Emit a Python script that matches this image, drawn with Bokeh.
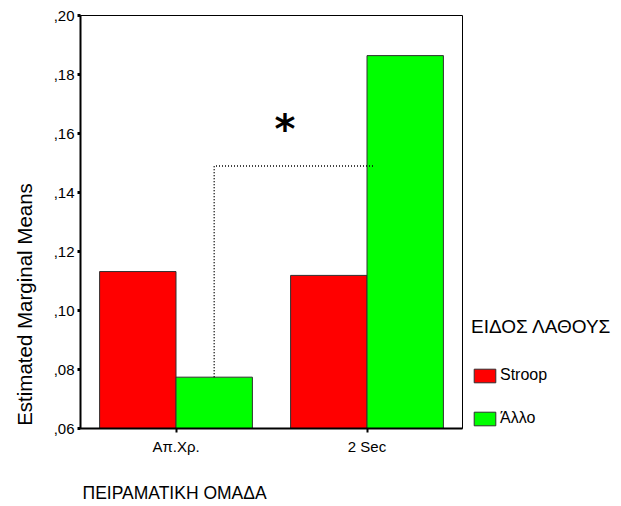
from math import pi
from bokeh.plotting import figure
from bokeh.models import (FactorRange, Range1d, FixedTicker, Label, Legend,
                          LegendItem, ColumnDataSource)
from bokeh.layouts import row, column
from bokeh.transform import dodge
from bokeh.embed import file_html
from bokeh.resources import INLINE

# ---- data ----
groups = ["Απ.Χρ.", "2 Sec"]
series_names = ["Stroop", "Άλλο"]
stroop = [0.1132, 0.1119]
allo = [0.0774, 0.1864]
y_ticks = [0.06, 0.08, 0.10, 0.12, 0.14, 0.16, 0.18, 0.20]
y_tick_labels = [",06", ",08", ",10", ",12", ",14", ",16", ",18", ",20"]
sig_level = 0.149          # level of the dotted significance bracket
star_y = 0.1615            # baseline of the significance asterisk
y_title = "Estimated Marginal Means"
x_title = "ΠΕΙΡΑΜΑΤΙΚΗ ΟΜΑΔΑ"
legend_title = "ΕΙΔΟΣ ΛΑΘΟΥΣ"
colors = ["#FF0000", "#00FF00"]

FONT = "Liberation Sans"
DODGE = 0.2
BAR_W = 0.4
ROW_H = 480
NAN = float("nan")


def blank(width, height):
    f = figure(width=width, height=height, x_range=(0, 1), y_range=(0, 1),
               x_axis_location=None, y_axis_location=None,
               output_backend="svg", toolbar_location=None, min_border=0)
    f.outline_line_color = None
    f.xgrid.visible = False
    f.ygrid.visible = False
    return f


# ---- main chart ----
p = figure(width=431, height=ROW_H,
           x_range=FactorRange(factors=groups, range_padding=0),
           y_range=Range1d(y_ticks[0], y_ticks[-1]),
           output_backend="svg", toolbar_location=None,
           min_border_left=40, min_border_right=9,
           min_border_top=15, min_border_bottom=52)

src = ColumnDataSource(dict(group=groups, stroop=stroop, allo=allo))
r1 = p.vbar(x=dodge("group", -DODGE, range=p.x_range), top="stroop",
            bottom=y_ticks[0], width=BAR_W, source=src,
            fill_color=colors[0], line_color="#303030", line_width=1)
r2 = p.vbar(x=dodge("group", DODGE, range=p.x_range), top="allo",
            bottom=y_ticks[0], width=BAR_W, source=src,
            fill_color=colors[1], line_color="#303030", line_width=1)

# significance bracket: from the green bar of group 0 over to group 1
x0 = groups.index(groups[0]) + 0.5 + DODGE
x1 = groups.index(groups[1]) + 0.5 + 0.04
p.line(x=[x0, x0, x1], y=[allo[0], sig_level, sig_level],
       line_color="black", line_width=1.5, line_dash="1 2")
p.add_layout(Label(x=(x0 + x1) / 2 - 0.05, y=star_y, text="*",
                   text_font="DejaVu Sans", text_font_size="40px",
                   text_font_style="bold",
                   text_align="center", text_baseline="alphabetic",
                   text_color="black"))

p.xgrid.visible = False
p.ygrid.visible = False
p.outline_line_color = "black"
p.outline_line_width = 1
p.outline_line_alpha = 1

for ax in (p.xaxis, p.yaxis):
    ax.axis_line_width = 2
    ax.axis_line_color = "black"
    ax.major_tick_in = 0
    ax.minor_tick_out = 0
    ax.minor_tick_in = 0
    ax.major_label_text_font = FONT
    ax.major_label_text_color = "black"
    ax.major_tick_line_color = "black"

p.xaxis.major_tick_out = 4
p.xaxis.major_tick_line_width = 2
p.xaxis.major_label_text_font_size = "15px"
p.xaxis.major_label_standoff = 5

p.yaxis.ticker = FixedTicker(ticks=y_ticks)
p.yaxis.major_label_overrides = {t: l for t, l in zip(y_ticks, y_tick_labels)}
p.yaxis.major_tick_out = 3
p.yaxis.major_tick_line_width = 3
p.yaxis.major_label_text_font_size = "15px"
p.yaxis.major_label_standoff = 3

# frames of the strips are aligned with the chart frame (bottom at y=428)
FRAME_BOTTOM = 428

# ---- y title (left strip) ----
lf = blank(40, ROW_H)
lf.add_layout(Label(x=23.5, y=FRAME_BOTTOM - 304, x_units="screen",
                    y_units="screen", angle=pi / 2, text=y_title,
                    text_font=FONT, text_font_size="20.5px",
                    text_align="center", text_baseline="middle",
                    text_color="black"))

# ---- legend (right strip); proxies hold no drawable data ----
lp = blank(150, ROW_H)
d1 = lp.vbar(x=[NAN], top=[NAN], width=0.5, fill_color=colors[0],
             line_color="#303030", line_width=1)
d2 = lp.vbar(x=[NAN], top=[NAN], width=0.5, fill_color=colors[1],
             line_color="#303030", line_width=1)
legend = Legend(items=[LegendItem(label=series_names[0], renderers=[d1]),
                       LegendItem(label=series_names[1], renderers=[d2])],
                location=(0, 1), title=legend_title,
                title_text_font=FONT, title_text_font_size="19px",
                title_text_font_style="normal", title_text_color="black",
                title_standoff=28, glyph_width=27, glyph_height=17,
                label_height=17, spacing=25, label_standoff=2,
                padding=0, margin=0, border_line_alpha=0,
                background_fill_alpha=0, label_text_font=FONT,
                label_text_font_size="16px", label_text_color="black")
lp.add_layout(legend, "center")

# ---- x title (bottom strip) ----
BOT_H = 24
bp = blank(621, BOT_H)
bp.add_layout(Label(x=82, y=BOT_H - 12, x_units="screen", y_units="screen",
                    text=x_title, text_font=FONT, text_font_size="17.5px",
                    text_align="left", text_baseline="middle",
                    text_color="black"))

layout = column(row(lf, p, lp), bp)
open("out.html", "w").write(file_html(layout, INLINE))
